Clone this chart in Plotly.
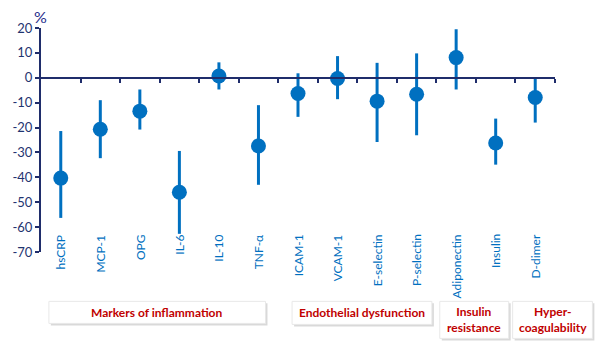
import plotly.graph_objects as go

categories = ["hsCRP", "MCP-1", "OPG", "IL-6", "IL-10", "TNF-\u03b1", "ICAM-1", "VCAM-1",
              "E-selectin", "P-selectin", "Adiponectin", "Insulin", "D-dimer"]
means = [-40.3, -20.7, -13.4, -46.0, 0.7, -27.4, -6.3, -0.3, -9.4, -6.6, 8.1, -26.2, -7.9]
upper = [-21.4, -9.0, -4.7, -29.4, 6.2, -11.0, 1.8, 8.7, 6.0, 9.8, 19.5, -16.4, 0.0]
lower = [-56.3, -32.3, -20.8, -62.7, -4.7, -43.0, -15.7, -8.6, -25.8, -23.1, -4.7, -34.9, -18.0]
y_ticks = [20, 10, 0, -10, -20, -30, -40, -50, -60, -70]
groups = ["Markers of inflammation", "Endothelial dysfunction", "Insulin<br>resistance", "Hyper-<br>coagulability"]

W, H = 600, 348
L, R, T, B = 33, 45, 28, 96.3
pw, ph = W - L - R, H - T - B
YMIN, YMAX = -70, 20

def px2x(px):
    return (px - L) / pw

def py2y(py):
    return (H - B - py) / ph

BLUE = "#0070C0"
NAVY = "#1F2D6B"
RED = "#C00000"

xs = list(range(len(categories)))
fig = go.Figure()
fig.add_trace(go.Scatter(
    x=xs, y=means, mode="markers",
    marker=dict(size=15, color=BLUE),
    error_y=dict(type="data", symmetric=False,
                 array=[u - m for u, m in zip(upper, means)],
                 arrayminus=[m - l for m, l in zip(means, lower)],
                 thickness=3, width=0, color=BLUE),
    showlegend=False, hoverinfo="skip",
))

fig.update_layout(
    width=W, height=H,
    margin=dict(l=L, r=R, t=T, b=B),
    plot_bgcolor="white", paper_bgcolor="white",
    font=dict(family="Lato, Open Sans, sans-serif", color=NAVY),
    xaxis=dict(range=[-0.5, len(categories) - 0.5], showgrid=False, zeroline=False,
               anchor="free", position=(0 - YMIN) / (YMAX - YMIN),
               showline=True, linecolor=NAVY, linewidth=2,
               tickmode="array", tickvals=[i + 0.5 for i in xs],
               ticks="outside", ticklen=4, tickwidth=2, tickcolor=NAVY,
               showticklabels=False),
    yaxis=dict(range=[YMIN, YMAX], showgrid=False, zeroline=False,
               showline=True, linecolor=NAVY, linewidth=2,
               tickmode="array", tickvals=y_ticks, ticktext=[str(v) for v in y_ticks],
               ticks="outside", ticklen=4, tickwidth=2, tickcolor=NAVY,
               tickfont=dict(size=13, color="#1F3470")),
)

# category labels
for i, c in enumerate(categories):
    fig.add_annotation(x=i, y=py2y(232), yref="paper", text=c, textangle=-90,
                       showarrow=False, xanchor="center", yanchor="top",
                       font=dict(size=12, color=BLUE))

# percent label
fig.add_annotation(x=px2x(32), y=py2y(17), xref="paper", yref="paper", text="%",
                   showarrow=False, xanchor="center", yanchor="middle",
                   font=dict(size=16, color="#1F2D8B", family="Lato"))

# group boxes
boxes = [(41, 261, 301, 323), (288, 430, 301, 324), (438, 508, 301, 338), (512, 593, 301, 338)]
for (x0, x1, y0, y1), g in zip(boxes, groups):
    fig.add_shape(type="rect", xref="paper", yref="paper",
                  x0=px2x(x0 + 2), x1=px2x(x1 + 2), y0=py2y(y1 + 2), y1=py2y(y0 + 2),
                  fillcolor="rgba(0,0,0,0.15)", line=dict(width=0), layer="above")
    fig.add_shape(type="rect", xref="paper", yref="paper",
                  x0=px2x(x0), x1=px2x(x1), y0=py2y(y1), y1=py2y(y0),
                  fillcolor="white", line=dict(color="#E8E8E8", width=1), layer="above")
    fig.add_annotation(x=px2x((x0 + x1) / 2), y=py2y((y0 + y1) / 2), xref="paper", yref="paper",
                       text="<b>" + g + "</b>", showarrow=False, xanchor="center", yanchor="middle",
                       font=dict(size=12, color=RED), align="center")

fig.write_html("out.html")
